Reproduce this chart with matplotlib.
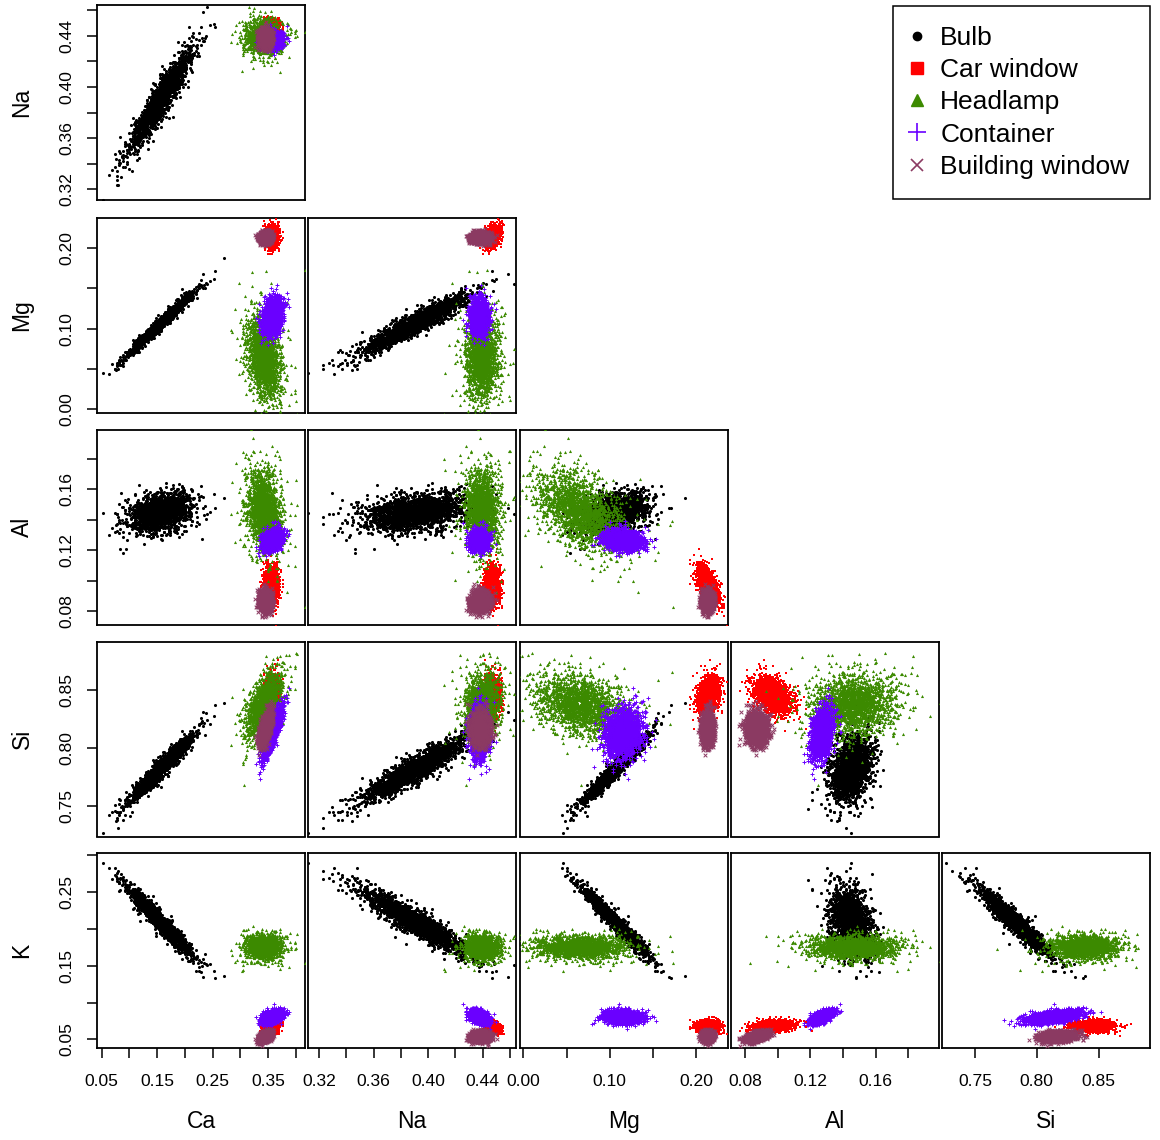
import numpy as np
import matplotlib
matplotlib.use("Agg")
import matplotlib.pyplot as plt
from matplotlib.lines import Line2D

plt.rcParams['font.family'] = ['Liberation Sans', 'DejaVu Sans']

# ---------------- data ----------------
variables = ["Ca", "Na", "Mg", "Al", "Si", "K"]
groups = ["Bulb", "Car window", "Headlamp", "Container", "Building window"]
n_draws = 2000

# group centres (Ca, Na, Mg, Al, Si, K)
mean_bulb      = [0.155, 0.390, 0.106, 0.145, 0.782, 0.210]
mean_car       = [0.356, 0.447, 0.214, 0.097, 0.846, 0.068]
mean_headlamp  = [0.342, 0.439, 0.065, 0.146, 0.838, 0.176]
mean_container = [0.357, 0.437, 0.115, 0.127, 0.813, 0.081]
mean_building  = [0.345, 0.438, 0.213, 0.087, 0.817, 0.054]

# group spreads
sd_bulb      = [0.025, 0.0175, 0.0165, 0.0055, 0.0125, 0.020]
sd_car       = [0.006, 0.0025, 0.006, 0.006, 0.008, 0.0035]
sd_headlamp  = [0.014, 0.0055, 0.024, 0.012, 0.012, 0.007]
sd_container = [0.008, 0.003, 0.010, 0.003, 0.010, 0.004]
sd_building  = [0.005, 0.003, 0.003, 0.003, 0.006, 0.003]

# tail heaviness (degrees of freedom of each cloud)
df_groups = [14, 40, 9, 40, 40]

# group correlation matrices
corr_bulb = [[1.00, 0.93, 0.98, 0.35, 0.96, -0.96],
             [0.93, 1.00, 0.93, 0.34, 0.91, -0.92],
             [0.98, 0.93, 1.00, 0.35, 0.97, -0.97],
             [0.35, 0.34, 0.35, 1.00, 0.34, -0.34],
             [0.96, 0.91, 0.97, 0.34, 1.00, -0.95],
             [-0.96, -0.92, -0.97, -0.34, -0.95, 1.00]]
corr_car = [[1.0, 0.0, 0.0, 0.0, 0.2, 0.0],
            [0.0, 1.0, 0.3, 0.0, 0.0, -0.5],
            [0.0, 0.3, 1.0, -0.6, 0.3, 0.0],
            [0.0, 0.0, -0.6, 1.0, -0.4, 0.3],
            [0.2, 0.0, 0.3, -0.4, 1.0, 0.0],
            [0.0, -0.5, 0.0, 0.3, 0.0, 1.0]]
corr_headlamp = [[1.0, 0.0, -0.3, -0.2, 0.6, 0.0],
                 [0.0, 1.0, 0.0, 0.0, 0.2, 0.0],
                 [-0.3, 0.0, 1.0, -0.5, -0.3, 0.0],
                 [-0.2, 0.0, -0.5, 1.0, 0.1, 0.0],
                 [0.6, 0.2, -0.3, 0.1, 1.0, 0.0],
                 [0.0, 0.0, 0.0, 0.0, 0.0, 1.0]]
corr_container = [[1.0, 0.0, 0.3, 0.3, 0.85, 0.4],
                  [0.0, 1.0, 0.0, 0.0, 0.0, -0.4],
                  [0.3, 0.0, 1.0, -0.1, 0.2, 0.0],
                  [0.3, 0.0, -0.1, 1.0, 0.3, 0.6],
                  [0.85, 0.0, 0.2, 0.3, 1.0, 0.5],
                  [0.4, -0.4, 0.0, 0.6, 0.5, 1.0]]
corr_building = [[1.0, 0.0, 0.0, 0.0, 0.6, 0.4],
                 [0.0, 1.0, 0.0, 0.0, 0.0, 0.0],
                 [0.0, 0.0, 1.0, 0.0, 0.0, 0.0],
                 [0.0, 0.0, 0.0, 1.0, 0.0, 0.5],
                 [0.6, 0.0, 0.0, 0.0, 1.0, 0.2],
                 [0.4, 0.0, 0.0, 0.5, 0.2, 1.0]]

# axis ranges and ticks
lim_ca = (0.042, 0.4164)
lim_na = (0.3117, 0.4640)
lim_mg = (-0.0040, 0.2368)
lim_al = (0.0714, 0.1988)
lim_si = (0.7236, 0.8917)
lim_k  = (0.0387, 0.3020)

ticks_ca = [0.05, 0.10, 0.15, 0.20, 0.25, 0.30, 0.35, 0.40]
labels_ca = ["0.05", "", "0.15", "", "0.25", "", "0.35", ""]
ticks_na = [0.32, 0.34, 0.36, 0.38, 0.40, 0.42, 0.44, 0.46]
labels_na = ["0.32", "", "0.36", "", "0.40", "", "0.44", ""]
ticks_mg = [0.00, 0.05, 0.10, 0.15, 0.20]
labels_mg = ["0.00", "", "0.10", "", "0.20"]
ticks_al = [0.08, 0.10, 0.12, 0.14, 0.16, 0.18]
labels_al = ["0.08", "", "0.12", "", "0.16", ""]
ticks_si = [0.75, 0.80, 0.85]
labels_si = ["0.75", "0.80", "0.85"]
ticks_k = [0.05, 0.10, 0.15, 0.20, 0.25, 0.30]
labels_k = ["0.05", "", "0.15", "", "0.25", ""]

# ---------------- styling ----------------
colors = ["#000000", "#FF0000", "#3C8A00", "#6A00FF", "#8B3A62"]
markers = ["o", "s", "^", "+", "x"]
sizes = [5, 4, 5, 9, 7]
lwidths = [0, 0, 0, 0.7, 0.7]

means = [mean_bulb, mean_car, mean_headlamp, mean_container, mean_building]
sds = [sd_bulb, sd_car, sd_headlamp, sd_container, sd_building]
corrs = [corr_bulb, corr_car, corr_headlamp, corr_container, corr_building]
lims = [lim_ca, lim_na, lim_mg, lim_al, lim_si, lim_k]
ticks = [ticks_ca, ticks_na, ticks_mg, ticks_al, ticks_si, ticks_k]
tlabels = [labels_ca, labels_na, labels_mg, labels_al, labels_si, labels_k]


def psd(c):
    c = np.asarray(c, float)
    w, v = np.linalg.eigh(c)
    w = np.clip(w, 1e-4, None)
    c2 = v @ np.diag(w) @ v.T
    d = np.sqrt(np.diag(c2))
    return c2 / np.outer(d, d)


rng = np.random.default_rng(7)
samples = []
for m, s, c, dfg in zip(means, sds, corrs, df_groups):
    cov = psd(c) * np.outer(s, s)
    z = rng.multivariate_normal(np.zeros(6), cov, size=n_draws)
    w = np.sqrt(dfg / rng.chisquare(dfg, size=n_draws))
    samples.append(np.asarray(m) + z * w[:, None])

# ---------------- layout ----------------
W, H = 1160, 1140
fig = plt.figure(figsize=(W / 100, H / 100), dpi=100)
col_left = [97.3, 307.7, 520.0, 731.0, 942.3]
col_w = 207.8
row_top = [5.3, 218.2, 430.1, 642.0, 853.3]
row_h = 194.5

for r in range(5):
    yv = r + 1
    for c in range(r + 1):
        xv = c
        ax = fig.add_axes([col_left[c] / W, 1 - (row_top[r] + row_h) / H,
                           col_w / W, row_h / H])
        for g in range(len(groups)):
            d = samples[g]
            ax.scatter(d[:, xv], d[:, yv], s=sizes[g], marker=markers[g],
                       c=colors[g], linewidths=lwidths[g], zorder=2 + g)
        ax.set_xlim(lims[xv])
        ax.set_ylim(lims[yv])
        for sp in ax.spines.values():
            sp.set_linewidth(1.3)
            sp.set_color("black")
        ax.tick_params(direction="out", length=7.2, width=1.1,
                       labelsize=12.6, colors="black")
        if r == 4:
            ax.set_xticks(ticks[xv])
            ax.set_xticklabels(tlabels[xv])
            ax.tick_params(axis="x", pad=11.5)
        else:
            ax.set_xticks([])
        if c == 0:
            ax.set_yticks(ticks[yv])
            ax.set_yticklabels(tlabels[yv], rotation=90, va="center")
            ax.tick_params(axis="y", pad=9)
        else:
            ax.set_yticks([])

# variable names
for c in range(5):
    fig.text((col_left[c] + col_w / 2) / W, 1 - 1121.7 / H, variables[c],
             ha="center", va="center", fontsize=16.5)
for r in range(5):
    fig.text(22 / W, 1 - (row_top[r] + row_h / 2) / H, variables[r + 1],
             ha="center", va="center", rotation=90, fontsize=16.5)

# legend
handles = [
    Line2D([], [], ls="none", marker="o", color=colors[0], markersize=6),
    Line2D([], [], ls="none", marker="s", color=colors[1], markersize=8),
    Line2D([], [], ls="none", marker="^", color=colors[2], markersize=9),
    Line2D([], [], ls="none", marker="+", color=colors[3], markersize=13, markeredgewidth=1.2),
    Line2D([], [], ls="none", marker="x", color=colors[4], markersize=9, markeredgewidth=1.2),
]
leg = fig.legend(handles, groups, loc="upper right",
                 bbox_to_anchor=(1149.5 / W, 1 - 6 / H), borderaxespad=0,
                 fontsize=19, frameon=True, fancybox=False, edgecolor="black",
                 framealpha=1, borderpad=0.76, labelspacing=0.31,
                 handlelength=0.35, handletextpad=0.7)
leg.get_frame().set_linewidth(1.1)

fig.savefig("out.png", dpi=100)
